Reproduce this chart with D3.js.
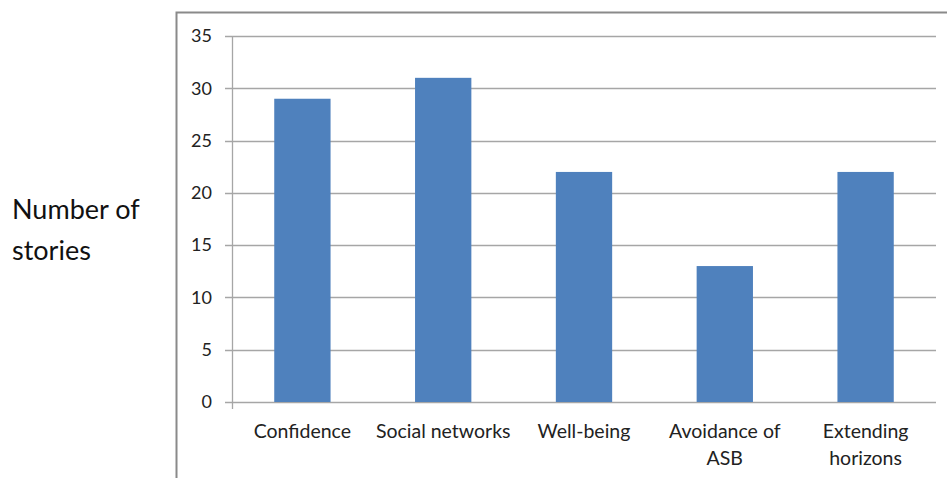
<!DOCTYPE html>
<html><head><meta charset="utf-8">
<script src="https://cdn.jsdelivr.net/npm/d3@7"></script>
<style>body{margin:0;background:#fff;}svg{display:block;font-family:Lato,"Open Sans",sans-serif;}</style>
</head><body><svg id="c" width="947" height="478"></svg>
<script>
const categories = [["Confidence"],["Social networks"],["Well-being"],["Avoidance of","ASB"],["Extending","horizons"]];
const values = [29, 31, 22, 13, 22];
const yTicks = [0,5,10,15,20,25,30,35];
const yTitle = ["Number of","stories"];

const svg = d3.select("#c");
const L = 232, R = 936, T = 36, B = 402;
const x = d3.scaleBand().domain(d3.range(values.length)).range([L, R]).paddingInner(0.6).paddingOuter(0.3);
const y = d3.scaleLinear().domain([0, 35]).range([B, T]);

// outer frame
svg.append("path").attr("d", `M176.5,478 V12.5 H947`).attr("fill","none").attr("stroke","#8a8a8a").attr("stroke-width",2);

// gridlines
svg.append("g").selectAll("line").data(yTicks).join("line")
  .attr("x1", L-7).attr("x2", R).attr("y1", d=>Math.round(y(d))+0.5).attr("y2", d=>Math.round(y(d))+0.5)
  .attr("stroke", "#a6a6a6").attr("stroke-width", 1.3);

// y axis line
svg.append("line").attr("x1", L+0.5).attr("x2", L+0.5).attr("y1", T).attr("y2", B+7).attr("stroke","#a6a6a6").attr("stroke-width",1.3);

// bars
svg.append("g").selectAll("rect").data(values).join("rect")
  .attr("x", (d,i)=>x(i)).attr("width", x.bandwidth())
  .attr("y", d=>y(d)).attr("height", d=>B - y(d)).attr("fill", "#4f81bd");

// y tick labels
svg.append("g").selectAll("text").data(yTicks).join("text")
  .attr("x", 212).attr("y", d=>y(d)).attr("dy","0.35em").attr("text-anchor","end")
  .attr("font-size", 18).attr("fill","#222").text(d=>d);

// x labels
const xl = svg.append("g").selectAll("text").data(categories).join("text")
  .attr("text-anchor","middle").attr("font-size",19.5).attr("fill","#222")
  .attr("x", (d,i)=>x(i)+x.bandwidth()/2).attr("y", 438);
xl.selectAll("tspan").data(d=>d).join("tspan")
  .attr("x", function(){return this.parentNode.getAttribute("x");})
  .attr("dy", (d,j)=> j===0 ? 0 : 27).text(d=>d);

// y title
svg.append("g").selectAll("text").data(yTitle).join("text")
  .attr("x", 12).attr("y", (d,i)=>219 + i*41).attr("font-size", 27).attr("fill","#111").text(d=>d);
</script></body></html>
